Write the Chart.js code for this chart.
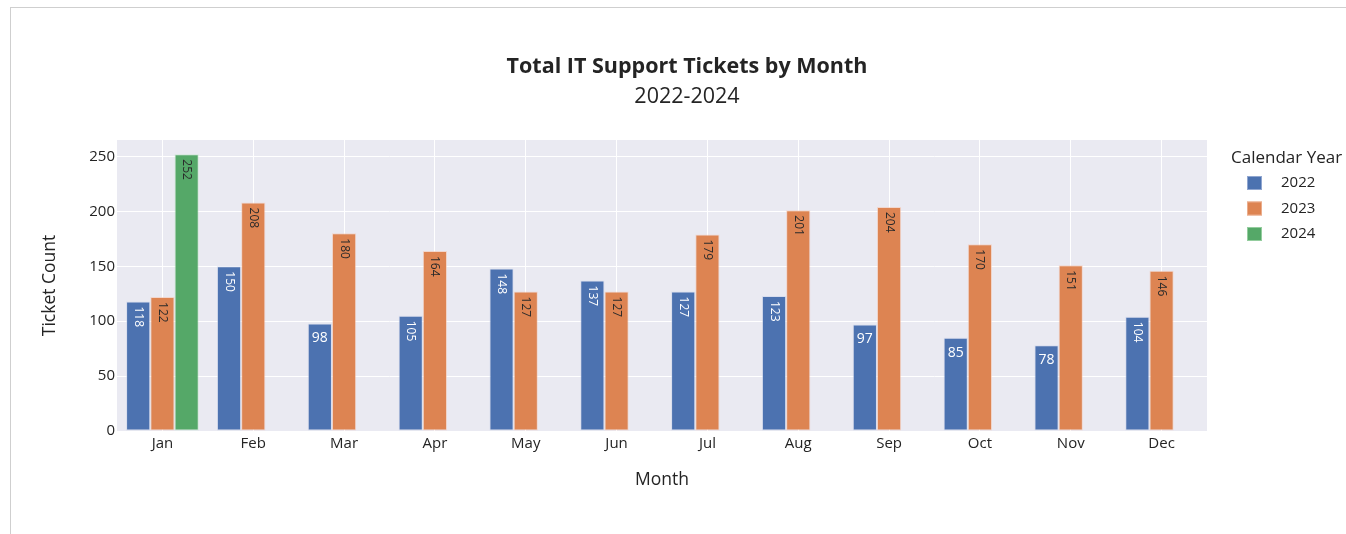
<!DOCTYPE html>
<html>
<head>
<meta charset="utf-8">
<script src="https://cdn.jsdelivr.net/npm/chart.js@4.4.1/dist/chart.umd.min.js"></script>
<style>
  html, body { margin: 0; padding: 0; background: #ffffff; }
  #frame { position: absolute; left: 10px; top: 7px; width: 1340px; height: 530px;
           border-top: 1px solid #cfcfcf; border-left: 1px solid #cfcfcf; }
  #c { position: absolute; left: 0; top: 0; }
</style>
</head>
<body>
<div id="frame"></div>
<canvas id="c" width="1346" height="534"></canvas>
<script>
const months = ['Jan','Feb','Mar','Apr','May','Jun','Jul','Aug','Sep','Oct','Nov','Dec'];
const years = ['2022','2023','2024'];
const tickets2022 = [118,150,98,105,148,137,127,123,97,85,78,104];
const tickets2023 = [122,208,180,164,127,127,179,201,204,170,151,146];
const tickets2024 = [252,null,null,null,null,null,null,null,null,null,null,null];
const yTicks = [0,50,100,150,200,250];

const colors = ['#4C72B0','#DD8452','#55A868'];
const borders = ['rgba(200,210,235,0.55)','rgba(245,200,180,0.6)','rgba(190,230,195,0.6)'];
const labelColors = ['#ffffff','#2a2a2a','#2a2a2a'];
const FONT = "'Open Sans', 'Noto Sans', sans-serif";
const TXT = 'rgb(36,36,36)';

const bgPlugin = {
  id: 'plotBg',
  beforeDraw(chart) {
    const {ctx, chartArea: a} = chart;
    ctx.save();
    ctx.fillStyle = '#EAEAF2';
    ctx.fillRect(a.left, a.top, a.right - a.left, a.bottom - a.top);
    ctx.restore();
  }
};

const barLabels = {
  id: 'barLabels',
  afterDatasetsDraw(chart) {
    const ctx = chart.ctx;
    chart.data.datasets.forEach((ds, di) => {
      const meta = chart.getDatasetMeta(di);
      meta.data.forEach((bar, i) => {
        const v = ds.data[i];
        if (v === null || v === undefined) return;
        const s = String(v);
        ctx.save();
        ctx.fillStyle = labelColors[di];
        if (s.length >= 3) {
          ctx.font = `12px ${FONT}`;
          ctx.translate(bar.x, bar.y + 5);
          ctx.rotate(Math.PI / 2);
          ctx.textAlign = 'left';
          ctx.textBaseline = 'middle';
          ctx.fillText(s, 0, 0);
        } else {
          ctx.font = `14px ${FONT}`;
          ctx.textAlign = 'center';
          ctx.textBaseline = 'middle';
          ctx.fillText(s, bar.x, bar.y + 15);
        }
        ctx.restore();
      });
    });
  }
};

const legendPlugin = {
  id: 'customLegend',
  afterDraw(chart) {
    const ctx = chart.ctx;
    ctx.save();
    ctx.fillStyle = TXT;
    ctx.font = `17px ${FONT}`;
    ctx.textAlign = 'left';
    ctx.textBaseline = 'middle';
    ctx.fillText('Calendar Year', 1231, 158);
    ctx.font = `15px ${FONT}`;
    years.forEach((y, i) => {
      const cy = 183 + i * 25.5;
      ctx.fillStyle = colors[i];
      ctx.fillRect(1247, cy - 7, 15, 14);
      ctx.strokeStyle = borders[i];
      ctx.lineWidth = 1;
      ctx.strokeRect(1247.5, cy - 6.5, 14, 13);
      ctx.fillStyle = TXT;
      ctx.fillText(y, 1281, cy);
    });
    ctx.restore();
  }
};

new Chart(document.getElementById('c'), {
  type: 'bar',
  data: {
    labels: months,
    datasets: [
      { label: years[0], data: tickets2022 },
      { label: years[1], data: tickets2023 },
      { label: years[2], data: tickets2024 }
    ].map((d, i) => Object.assign(d, {
      backgroundColor: colors[i],
      borderColor: borders[i],
      borderWidth: 1,
      borderSkipped: false,
      categoryPercentage: 0.8,
      barPercentage: 1.0
    }))
  },
  options: {
    responsive: false,
    animation: false,
    devicePixelRatio: 1,
    layout: { padding: { left: 28, right: 0, top: 0, bottom: 0 } },
    plugins: {
      legend: { display: false },
      tooltip: { enabled: false },
      title: {
        display: true,
        text: 'Total IT Support Tickets by Month',
        color: TXT,
        font: { family: FONT, size: 21.5, weight: 'bold', lineHeight: 1.2 },
        padding: { top: 54, bottom: 0 }
      },
      subtitle: {
        display: true,
        text: '2022-2024',
        color: TXT,
        font: { family: FONT, size: 21.5, weight: 'normal', lineHeight: 1.2 },
        padding: { top: 4.5, bottom: 29.9 }
      }
    },
    scales: {
      x: {
        grid: { color: '#ffffff', lineWidth: 1, offset: false, drawTicks: false },
        border: { display: false },
        ticks: { color: TXT, font: { family: FONT, size: 15 }, padding: 4 },
        title: {
          display: true, text: 'Month', color: TXT,
          font: { family: FONT, size: 17.5, lineHeight: 1.2 },
          padding: { top: 0, bottom: 43.5 }
        },
        afterFit(s) { s.height = 103; }
      },
      y: {
        min: 0, max: 265,
        grid: { color: '#ffffff', lineWidth: 1, drawTicks: false },
        border: { display: false },
        afterBuildTicks(s) { s.ticks = yTicks.map(v => ({ value: v })); },
        ticks: { color: TXT, font: { family: FONT, size: 15 }, padding: 2 },
        title: {
          display: true, text: 'Ticket Count', color: TXT,
          font: { family: FONT, size: 17.5, lineHeight: 1.2 },
          padding: { top: 11.5, bottom: 0 }
        },
        afterFit(s) { s.width = 89; }
      },
      yRight: {
        position: 'right',
        display: true,
        grid: { display: false, drawTicks: false },
        border: { display: false },
        ticks: { display: false },
        afterFit(s) { s.width = 139; }
      }
    }
  },
  plugins: [bgPlugin, barLabels, legendPlugin]
});
</script>
</body>
</html>
